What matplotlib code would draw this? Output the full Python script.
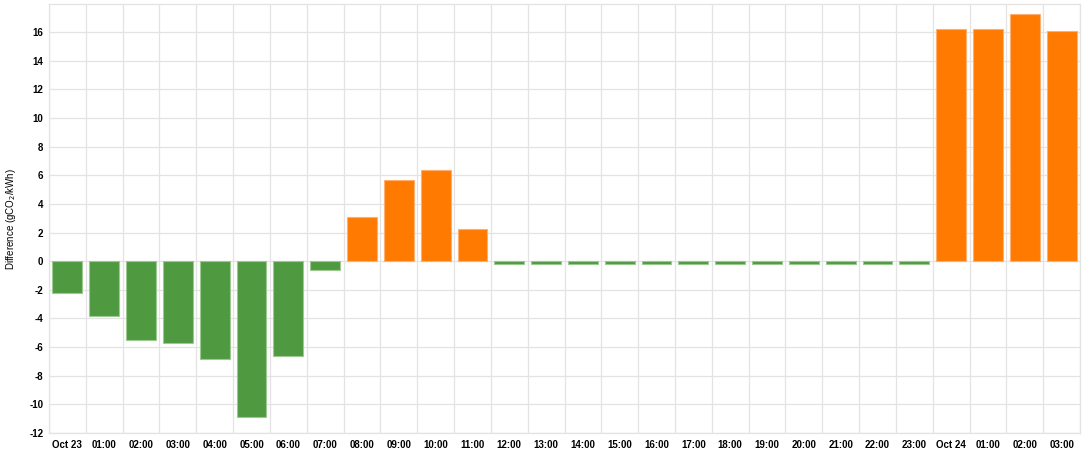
import numpy as np
import matplotlib
matplotlib.use('Agg')
import matplotlib.pyplot as plt

# ore e differenze
etichette = ['Oct 23', '01:00', '02:00', '03:00', '04:00', '05:00', '06:00', '07:00',
             '08:00', '09:00', '10:00', '11:00', '12:00', '13:00', '14:00', '15:00',
             '16:00', '17:00', '18:00', '19:00', '20:00', '21:00', '22:00', '23:00',
             'Oct 24', '01:00', '02:00', '03:00']
differenza = [-2.2, -3.85, -5.5, -5.7, -6.85, -10.85, -6.6, -0.6,
              3.1, 5.7, 6.35, 2.25, -0.2, -0.2, -0.2, -0.2,
              -0.2, -0.2, -0.2, -0.2, -0.2, -0.2, -0.2, -0.2,
              16.25, 16.25, 17.25, 16.05]

verde = '#4f9a41'
arancio = '#ff7a00'

plt.rcParams['font.family'] = ['Liberation Sans', 'DejaVu Sans']

fig = plt.figure(figsize=[10.9, 4.61], dpi=100)
ax = fig.add_axes([49/1090, 1 - 433/461, (1080-49)/1090, (433-4)/461])

x = np.arange(len(differenza))
colori = [arancio if v > 0 else verde for v in differenza]
bordi = ['#ffb070' if v > 0 else '#9cc98f' for v in differenza]
ax.bar(x, differenza, width=0.81, color=colori, edgecolor=bordi, linewidth=0.8, zorder=3)

ax.set_xlim(-0.5, len(differenza) - 0.5)
ax.set_ylim(-12, 17.97)
ax.set_yticks(np.arange(-12, 17, 2))
ax.set_yticklabels([str(v) for v in range(-12, 17, 2)], fontsize=7, fontweight='bold')
ax.set_xticks(x)
ax.set_xticklabels(etichette, fontsize=7, fontweight='bold')
ax.set_xticks(np.arange(-0.5, len(differenza), 1), minor=True)

ax.grid(True, which='minor', axis='x', color='#e3e3e3', linewidth=0.9, zorder=0)
ax.grid(True, which='major', axis='y', color='#e3e3e3', linewidth=0.9, zorder=0)
ax.tick_params(axis='both', which='both', length=0)
ax.tick_params(axis='x', pad=5)
ax.tick_params(axis='y', pad=4)
for s in ax.spines.values():
    s.set_color('#e3e3e3')
    s.set_linewidth(0.9)

ax.set_ylabel('Difference (gCO$_2$/kWh)', fontsize=7)
ax.yaxis.set_label_coords(-31/1031, 0.5)

plt.savefig('out.png', dpi=100)
